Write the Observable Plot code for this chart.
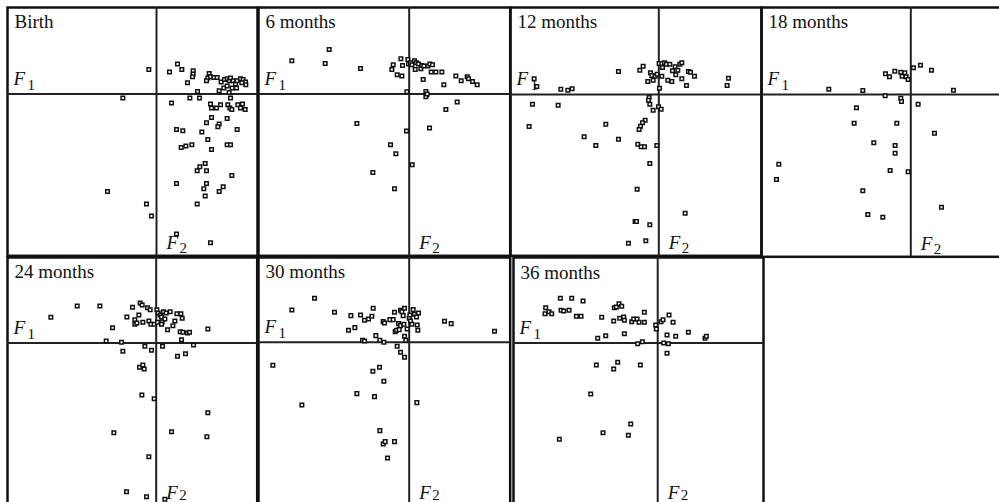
<!DOCTYPE html>
<html>
<head>
<meta charset="utf-8">
<script src="https://cdn.jsdelivr.net/npm/d3@7"></script>
<script src="https://cdn.jsdelivr.net/npm/@observablehq/plot@0.6"></script>
<style>
html, body { margin: 0; padding: 0; background: #fff; overflow: hidden; width: 999px; height: 502px; }
#chart { position: relative; width: 999px; height: 502px; overflow: hidden; background: #fff; }
</style>
</head>
<body>
<div id="chart"></div>
<script>
// Panel titles (age at measurement)
const panelTitles = ["Birth", "6 months", "12 months", "18 months", "24 months", "30 months", "36 months"];

// Scores on the two factors: [F2 (horizontal), F1 (vertical)], arbitrary units
const birth = [[-23,74],[-101,-12],[39,66],[63,90],[76,74],[110,70],[110,60],[108,52],[93,34],[123,8],[100,-12],[129,-12],[45,-27],
  [158,62],[154,48],[150,40],[162,52],[172,50],[182,50],[194,36],[204,44],[212,46],[218,40],[222,48],[230,40],[237,30],[242,40],[252,46],
  [260,44],[267,36],[268,28],[256,34],[188,10],[202,18],[218,5],[227,18],[240,18],[222,-12],[212,24],
  [162,-30],[165,-42],[180,-42],[192,-32],[214,-32],[220,-42],[226,-46],[244,-32],[252,-42],[258,-30],[266,-46],
  [165,-70],[150,-86],[188,-90],[184,-98],[212,-73],[242,-106],[60,-106],[79,-110],[136,-114],[154,-136],[212,-152],[222,-152],
  [74,-160],[88,-156],[106,-152],[165,-166],[146,-208],[130,-218],[122,-230],[150,-230],[60,-268],[226,-244],[150,-268],[142,-284],
  [200,-278],[188,-292],[146,-306],[-147,-292],[-30,-330],[-15,-366],[122,-330],[60,-420],[162,-446]];

const months6 = [[-352,100],[-240,134],[-252,92],[-146,77],[-48,88],[-52,74],[-25,106],[-20,86],[-36,58],[-22,54],[-4,104],[-2,90],
  [4,94],[8,88],[16,100],[22,94],[28,90],[18,74],[35,76],[38,86],[44,84],[56,84],[62,90],[70,88],[66,66],[80,66],[98,66],[42,44],[104,28],
  [140,54],[156,40],[174,52],[178,46],[190,38],[204,28],[-7,7],[50,8],[52,-2],[50,-8],[54,0],[144,-24],[110,-46],[-157,-88],[-8,-111],
  [61,-102],[-56,-152],[-40,-179],[9,-212],[-109,-235],[-44,-284]];

const months12 = [[-374,47],[-366,24],[-294,16],[-273,13],[-260,17],[-379,-29],[-302,-32],[-389,-96],[-121,69],[-57,73],[-47,85],
  [-25,65],[-21,57],[-17,43],[-33,39],[-11,55],[-5,61],[1,93],[9,93],[17,95],[23,91],[11,81],[9,55],[33,91],[41,71],[49,83],[57,73],
  [63,91],[69,95],[51,59],[27,43],[39,39],[69,47],[83,27],[89,69],[95,67],[107,55],[209,49],[205,27],[2,19],[-29,-9],[-31,-17],
  [-27,-29],[-17,-47],[-1,-37],[7,-44],[-41,-77],[-49,-85],[-55,-95],[-59,-105],[-159,-89],[-224,-127],[-189,-153],[-121,-134],
  [-63,-149],[-53,-157],[-43,-157],[-6,-153],[-27,-207],[-65,-284],[79,-356],[-71,-381],[-67,-381],[-27,-391],[-91,-446],[-39,-439]];

const months18 = [[-246,16],[-144,12],[128,13],[-76,62],[-64,53],[-48,70],[-30,67],[-26,55],[-18,65],[-14,53],[-8,45],[8,80],[29,88],
  [62,73],[-77,-4],[-30,-11],[-28,-21],[22,-29],[-163,-40],[-170,-86],[-42,-86],[71,-116],[-111,-145],[-47,-153],[-47,-176],
  [-396,-209],[-403,-255],[-62,-228],[-8,-232],[-144,-289],[92,-338],[-129,-360],[-84,-368]];

const months24 = [[-316,77],[-237,111],[-169,111],[-131,46],[-150,6],[-104,2],[-100,-25],[-88,78],[-71,107],[-48,120],[-42,114],
  [-26,106],[-18,100],[-52,84],[-64,70],[-64,56],[-58,60],[-40,62],[-22,66],[-16,56],[-6,56],[2,100],[6,90],[12,84],[16,78],[22,94],
  [30,90],[42,94],[18,64],[16,56],[4,62],[26,72],[62,88],[74,88],[78,74],[56,66],[50,52],[34,40],[72,34],[80,32],[94,30],[100,32],
  [76,10],[155,42],[112,-6],[-34,-10],[-14,-22],[19,-10],[64,-40],[88,-32],[-50,-73],[-40,-66],[-36,-78],[-43,-156],[-6,-167],
  [155,-209],[-127,-269],[46,-266],[152,-281],[-22,-341],[-89,-446],[-29,-461],[26,-469]];

const months30 = [[-352,97],[-284,132],[-224,90],[-175,80],[-146,82],[-134,66],[-122,70],[-112,78],[-108,102],[-182,36],[-163,44],
  [-140,6],[-134,4],[-100,20],[-88,6],[-76,0],[-78,62],[-74,58],[-58,68],[-48,68],[-44,90],[-26,96],[-22,92],[-14,102],[-18,80],
  [-32,56],[-26,50],[-16,54],[-42,32],[-38,36],[-30,38],[-14,18],[-10,6],[0,72],[4,64],[8,54],[12,98],[16,84],[22,76],[28,88],[24,52],
  [26,36],[-6,40],[2,82],[106,63],[126,56],[256,33],[-36,-12],[-26,-30],[-14,-45],[-409,-69],[-109,-87],[-89,-75],[-76,-117],
  [-157,-154],[-104,-163],[23,-181],[-322,-188],[-88,-265],[-78,-305],[-72,-298],[-44,-298],[-65,-347]];

const months36 = [[-336,106],[-338,88],[-326,94],[-318,88],[-292,134],[-258,134],[-290,98],[-282,96],[-266,98],[-244,80],[-230,80],
  [-224,126],[-168,77],[-130,106],[-124,108],[-116,118],[-108,110],[-132,66],[-114,74],[-102,78],[-100,68],[-78,64],[-72,72],[-62,72],
  [-56,62],[-40,62],[-40,92],[-180,14],[-156,22],[-100,28],[-60,-2],[-46,4],[-6,54],[-4,42],[10,64],[16,70],[34,84],[46,62],[28,24],
  [54,20],[92,32],[142,14],[146,20],[18,0],[32,-2],[28,-31],[-184,-66],[-132,-78],[-120,-58],[-52,-66],[-201,-153],[-81,-243],
  [-164,-269],[-88,-277],[-295,-289]];

const panelData = [birth, months6, months12, months18, months24, months30, months36];

// Page layout of each panel (pixels) and where its two axes cross
const layout = [
  {left: 7,     top: 6.7, right: 257,  bottom: 255,   axX: 156,   axY: 93.3},
  {left: 258.3, top: 6.7, right: 510,  bottom: 255,   axX: 409,   axY: 93.3},
  {left: 510,   top: 6.7, right: 761,  bottom: 255,   axX: 658.3, axY: 93.7},
  {left: 761,   top: 6.7, right: 1003, bottom: 256,   axX: 910.3, axY: 93.7},
  {left: 7.3,   top: 256.5, right: 257,  bottom: 507,   axX: 156,   axY: 342},
  {left: 258.3, top: 256.5, right: 510,  bottom: 507,   axX: 409,   axY: 341.3},
  {left: 512.5, top: 256.5, right: 762.5, bottom: 507,   axX: 656.7, axY: 342}
];

const unitsPerPx = 3;
const ink = "#222";
const serif = "'Liberation Serif', 'Times New Roman', serif";
const pad = 3;
const chart = document.getElementById("chart");

panelData.forEach((pts, i) => {
  const L = layout[i];
  const w = L.right - L.left, h = L.bottom - L.top;
  const lowerRow = i >= 4;
  const svg = Plot.plot({
    width: w + 2 * pad,
    height: h + 2 * pad,
    marginTop: pad, marginRight: pad, marginBottom: pad, marginLeft: pad,
    style: {background: "transparent", overflow: "visible"},
    x: {domain: [(L.left - L.axX) * unitsPerPx, (L.right - L.axX) * unitsPerPx], axis: null},
    y: {domain: [(L.axY - L.bottom) * unitsPerPx, (L.axY - L.top) * unitsPerPx], axis: null},
    marks: [
      Plot.frame({stroke: "#111", strokeWidth: 2.5}),
      Plot.ruleX([0], {stroke: ink, strokeWidth: 2}),
      Plot.ruleY([0], {stroke: ink, strokeWidth: 2}),
      Plot.dot(pts, {x: d => d[0], y: d => d[1], symbol: "square", r: 2,
        stroke: "#111", strokeWidth: 1.5, fill: "white"}),
      Plot.text([panelTitles[i]], {frameAnchor: "top-left", textAnchor: "start", lineAnchor: "bottom",
        dx: 7, dy: 21, fontFamily: serif, fontSize: 19, fill: "#111"}),
      Plot.text(["F"], {y: () => 0, frameAnchor: "left", textAnchor: "start", lineAnchor: "bottom",
        dx: 6, dy: -9, fontFamily: serif, fontStyle: "italic", fontSize: 19, fill: "#111"}),
      Plot.text(["1"], {y: () => 0, frameAnchor: "left", textAnchor: "start", lineAnchor: "bottom",
        dx: 20, dy: -4, fontFamily: serif, fontSize: 15, fill: "#111"}),
      Plot.text(["F"], {x: () => 0, frameAnchor: "bottom", textAnchor: "start", lineAnchor: "bottom",
        dx: 10, dy: (lowerRow ? -9 : -7), fontFamily: serif, fontStyle: "italic", fontSize: 19, fill: "#111"}),
      Plot.text(["2"], {x: () => 0, frameAnchor: "bottom", textAnchor: "start", lineAnchor: "bottom",
        dx: 23, dy: (lowerRow ? -8 : -3), fontFamily: serif, fontSize: 15, fill: "#111"})
    ]
  });
  svg.style.position = "absolute";
  svg.style.left = (L.left - pad) + "px";
  svg.style.top = (L.top - pad) + "px";
  svg.style.maxWidth = "none";
  chart.appendChild(svg);
});
</script>
</body>
</html>
